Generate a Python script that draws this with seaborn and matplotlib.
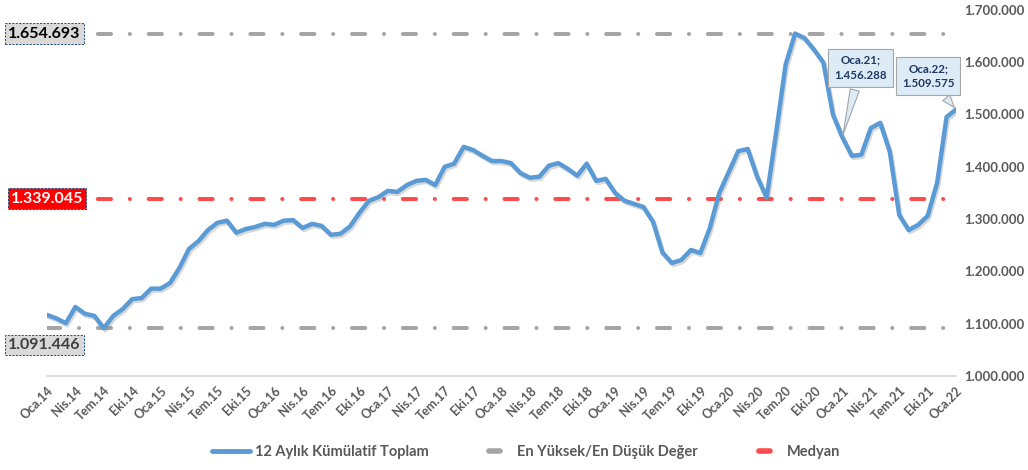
import numpy as np
import pandas as pd
import matplotlib
matplotlib.use("Agg")
import matplotlib.pyplot as plt
import matplotlib.patheffects as pe
from matplotlib.lines import Line2D
import seaborn as sns

# aylik 12 aylik kumulatif toplam (Oca.14 - Oca.22)
degerler = [1117000, 1110000, 1101000, 1132000, 1119000, 1115000, 1091446, 1115000, 1128000, 1147000,
            1149000, 1167000, 1167000, 1178000, 1207000, 1243000, 1258000, 1279000, 1293000, 1297000,
            1274000, 1281000, 1285000, 1291000, 1289000, 1297000, 1298000, 1283000, 1291000, 1287000,
            1270000, 1272000, 1286000, 1312000, 1335000, 1342000, 1354000, 1352000, 1365000, 1373000,
            1375000, 1365000, 1400000, 1406000, 1438000, 1432000, 1421000, 1411000, 1411000, 1407000,
            1388000, 1379000, 1381000, 1402000, 1407000, 1396000, 1383000, 1406000, 1373000, 1377000,
            1350000, 1335000, 1329000, 1323000, 1295000, 1236000, 1216000, 1222000, 1241000, 1235000,
            1283000, 1350000, 1390000, 1430000, 1434000, 1381000, 1341000, 1465000, 1595000, 1654693,
            1646000, 1624000, 1599000, 1500000, 1456288, 1421000, 1423000, 1474000, 1484000, 1429000,
            1308000, 1279000, 1289000, 1306000, 1369000, 1495000, 1509575]
en_yuksek = 1654693
en_dusuk = 1091446
medyan = 1339045

aylar = ["Oca", "Şub", "Mar", "Nis", "May", "Haz", "Tem", "Ağu", "Eyl", "Eki", "Kas", "Ara"]
etiketler = [f"{aylar[i % 12]}.{14 + i // 12}" for i in range(len(degerler))]

def nokta(v):
    return f"{v:,.0f}".replace(",", ".")

df = pd.DataFrame({"ay": np.arange(len(degerler)), "deger": degerler})

sns.set_theme(style="white")
plt.rcParams["font.family"] = ["Lato", "DejaVu Sans"]
plt.rcParams["lines.scale_dashes"] = False

fig = plt.figure(figsize=(10.28, 4.70), dpi=100)
ax = fig.add_axes([0.0457, 0.2, 0.8843, 0.779])

gri = "#A5A5A5"
kirmizi = "#FF4B4B"
mavi = "#5B9BD5"
yazi = "#595959"
cizgi = (0, (9.5, 13.5, 0.1, 13.5))

n = len(degerler) - 1
for v, c in [(en_yuksek, gri), (en_dusuk, gri), (medyan, kirmizi)]:
    ax.plot([0, n], [v, v], color=c, lw=2.9, ls=cizgi, dash_capstyle="round", zorder=2)

sns.lineplot(data=df, x="ay", y="deger", color=mavi, lw=3.2, ax=ax, zorder=3,
             path_effects=[pe.SimpleLineShadow(offset=(1, -1.5), shadow_color="gray", alpha=0.3), pe.Normal()])

ax.set_xlim(0, n)
ax.set_ylim(1000000, 1700000)
ax.set_xlabel("")
ax.set_ylabel("")

ax.set_xticks(range(0, n + 1, 3))
ax.set_xticklabels(etiketler[::3], rotation=45, ha="right", rotation_mode="anchor",
                   fontsize=9, fontweight="bold", color=yazi)
ax.tick_params(axis="x", length=4, color="#D9D9D9", pad=2)

ax.yaxis.tick_right()
yt = np.arange(1000000, 1700001, 100000)
ax.set_yticks(yt)
ax.set_yticklabels([nokta(v) for v in yt], fontsize=9.5, fontweight="bold", color=yazi)
ax.tick_params(axis="y", length=0, pad=6)

for s in ["top", "left", "right"]:
    ax.spines[s].set_visible(False)
ax.spines["bottom"].set_color("#D9D9D9")
ax.grid(False)

# sol taraftaki deger kutulari
kutu = dict(boxstyle="square,pad=0.2", ec="#1F4E79", lw=0.7, ls=(0, (1.5, 1)))
ax.annotate(nokta(en_yuksek), xy=(0, en_yuksek), xytext=(-2, 0), textcoords="offset points",
            ha="center", va="center", fontsize=11.5, fontweight="bold", color="black",
            bbox=dict(kutu, fc="#D9D9D9"), zorder=5, annotation_clip=False)
ax.annotate(nokta(medyan), xy=(0, medyan), xytext=(0, 0), textcoords="offset points",
            ha="center", va="center", fontsize=11.5, fontweight="bold", color="white",
            bbox=dict(kutu, fc="#FF0000"), zorder=5, annotation_clip=False)
ax.annotate(nokta(en_dusuk), xy=(0, en_dusuk), xytext=(-2, -12), textcoords="offset points",
            ha="center", va="center", fontsize=11.5, fontweight="bold", color="#404040",
            bbox=dict(kutu, fc="#D9D9D9"), zorder=5, annotation_clip=False)

# son degerler icin balonlar
balon = dict(boxstyle="square,pad=0.5", fc="#DDEBF7", ec="#A6A6A6", lw=0.8)
ok = dict(arrowstyle="wedge,tail_width=0.8,shrink_factor=0.5", fc="#DDEBF7", ec="#A6A6A6", lw=0.8)
for i, dx, dy in [(84, 13, 50), (96, -20, 24)]:
    ax.annotate(f"{etiketler[i]};\n{nokta(degerler[i])}", xy=(i, degerler[i]), xytext=(dx, dy),
                textcoords="offset points", ha="center", va="center", fontsize=8.3,
                fontweight="bold", color="#1F3864", linespacing=1.5,
                bbox=balon, arrowprops=ok, zorder=6, annotation_clip=False)

tutucular = [Line2D([0], [0], color=mavi, lw=3.5),
             Line2D([0], [0], color=gri, lw=4, ls=(48, (8, 50)), dash_capstyle="round"),
             Line2D([0], [0], color=kirmizi, lw=4, ls=(48, (8, 50)), dash_capstyle="round")]
fig.legend(tutucular, ["12 Aylık Kümülatif Toplam", "En Yüksek/En Düşük Değer", "Medyan"],
           loc="center", bbox_to_anchor=(0.512, 0.038), ncol=3, frameon=False,
           handlelength=2.6, columnspacing=3.2, handletextpad=0.3,
           prop={"size": 10.5, "weight": "bold"}, labelcolor=yazi)

fig.savefig("out.png", dpi=100)
